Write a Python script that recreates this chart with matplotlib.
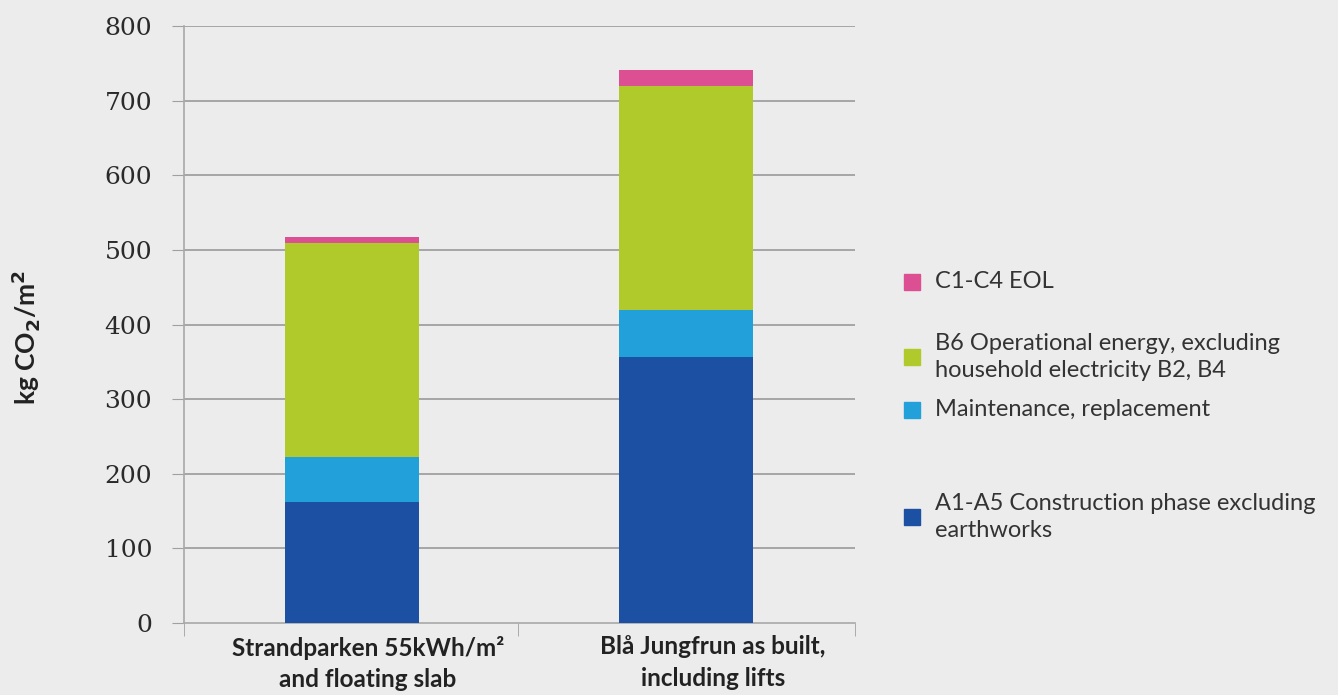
import matplotlib.pyplot as plt
import matplotlib.transforms as mtransforms
from matplotlib.patches import Rectangle

# Embodied + operational carbon per heated floor area
buildings = ['Strandparken 55kWh/m²\nand floating slab',
             'Blå Jungfrun as built,\nincluding lifts']
construction = [162, 357]   # A1-A5
maintenance = [60, 63]      # B2, B4
operational = [287, 300]    # B6
end_of_life = [8, 21]       # C1-C4

series_labels = ['A1-A5 Construction phase excluding\nearthworks',
                 'Maintenance, replacement',
                 'B6 Operational energy, excluding\nhousehold electricity B2, B4',
                 'C1-C4 EOL']
colors = ['#1b50a3', '#22a0d9', '#b1ca2b', '#dc4f92']
yticks = [0, 100, 200, 300, 400, 500, 600, 700, 800]

bg = '#ececec'
grid_c = '#9a9a9a'
plt.rcParams['font.family'] = ['Lato', 'DejaVu Sans']

fig = plt.figure(figsize=(13.38, 6.95), dpi=100, facecolor=bg)
ax = fig.add_axes([184 / 1338, 1 - 623 / 695, 671 / 1338, 597 / 695])
ax.set_facecolor(bg)

x = [0, 1]
bottom = [0, 0]
for vals, c in zip([construction, maintenance, operational, end_of_life], colors):
    ax.bar(x, vals, width=0.4, bottom=bottom, color=c, zorder=3)
    bottom = [b + v for b, v in zip(bottom, vals)]

ax.set_xlim(-0.503, 1.506)
ax.set_ylim(0, 800)

# horizontal gridlines
for y in yticks[1:]:
    ax.axhline(y, color=grid_c, lw=1.2, zorder=1)

for s in ['top', 'right']:
    ax.spines[s].set_visible(False)
for s in ['left', 'bottom']:
    ax.spines[s].set_color('#a8a8a8')
    ax.spines[s].set_linewidth(1.2)

ax.set_yticks(yticks)
ax.set_yticklabels([str(v) for v in yticks], family='DejaVu Serif',
                   fontsize=18, color='#2a2a2a')
ax.tick_params(axis='y', length=9, color='#a0a0a0', pad=14)

ax.set_xticks(x)
ax.set_xticklabels(buildings, fontsize=17.5, fontweight='bold', color='#222222',
                   linespacing=1.45)
ax.tick_params(axis='x', length=0, pad=9)
# labels sit a little right of the bar centres
for lab, dx in zip(ax.get_xticklabels(), [16, 27]):
    lab.set_transform(lab.get_transform() +
                      mtransforms.ScaledTranslation(dx / 100, 0, fig.dpi_scale_trans))
ax.set_xticks([-0.503, 0.497, 1.506], minor=True)
ax.tick_params(axis='x', which='minor', length=9, color='#a0a0a0', direction='out')

fig.text(0.019, 0.515, 'kg CO$_\\mathbf{2}$/m$^\\mathbf{2}$', rotation=90,
         fontsize=19, fontweight='bold', color='#222222', ha='center', va='center')

# legend, top entry first
leg_y = [282, 357, 410, 517]
for lbl, c, yp in zip(series_labels[::-1], colors[::-1], leg_y):
    fig.add_artist(Rectangle((904 / 1338, 1 - (yp + 8) / 695), 16 / 1338, 16 / 695,
                             color=c, transform=fig.transFigure))
    fig.text(935 / 1338, 1 - yp / 695, lbl, fontsize=17, color='#333333',
             va='center', ha='left', linespacing=1.3)

plt.savefig('out.png', dpi=100, facecolor=bg)
